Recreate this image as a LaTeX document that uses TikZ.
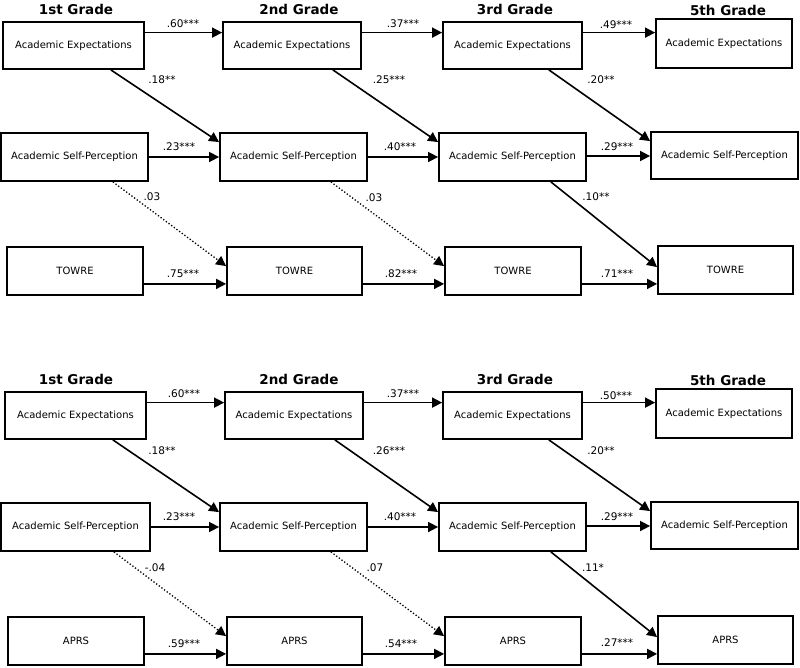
\documentclass[tikz,border=0pt]{standalone}
\usepackage{fontspec}
\setmainfont{DejaVu Sans}
\usetikzlibrary{arrows.meta}
\begin{document}
\begin{tikzpicture}[x=1pt,y=-1pt,
 box/.style={draw,line width=1.8pt,inner sep=0pt,minimum height=48pt,font=\fontsize{10}{12}\selectfont},
 arr/.style={line width=1.6pt,-{Triangle[length=10pt,width=10pt]}},
 dotarr/.style={line width=1.3pt,dotted,-{Triangle[length=10pt,width=10pt]}},
 lab/.style={font=\fontsize{10.5}{12}\selectfont,inner sep=1pt},
 gtitle/.style={font=\bfseries\fontsize{13.5}{15}\selectfont,inner sep=0pt}]
\useasboundingbox (0,0) rectangle (800,667);

% ================= TOP PANEL =================
\node[gtitle] (tg1) at (76,9) {1st Grade};
\node[gtitle] (tg2) at (299,9) {2nd Grade};
\node[gtitle] (tg3) at (515,9) {3rd Grade};
\node[gtitle] (tg5) at (728,10) {5th Grade};

\node[box,minimum width=141pt,minimum height=47pt] (ae1) at (73.5,45.5) {Academic Expectations};
\node[box,minimum width=138pt,minimum height=47pt] (ae2) at (292,45.5) {Academic Expectations};
\node[box,minimum width=139pt,minimum height=47pt] (ae3) at (512.5,45.5) {Academic Expectations};
\node[box,minimum width=136pt,minimum height=49pt] (ae4) at (724,43.5) {Academic Expectations};

\node[box,minimum width=147pt] (sp1) at (74.5,157) {Academic Self-Perception};
\node[box,minimum width=147pt] (sp2) at (293.5,157) {Academic Self-Perception};
\node[box,minimum width=147pt] (sp3) at (512.5,157) {Academic Self-Perception};
\node[box,minimum width=147pt,minimum height=47pt] (sp4) at (724.5,155.5) {Academic Self-Perception};

\node[box,minimum width=136pt] (tw1) at (75,271) {TOWRE};
\node[box,minimum width=135pt] (tw2) at (294.5,271) {TOWRE};
\node[box,minimum width=136pt] (tw3) at (513,271) {TOWRE};
\node[box,minimum width=135pt] (tw4) at (725.5,270) {TOWRE};

\draw[arr] ([yshift=-11.5pt]ae1.north east) coordinate (c1) -- (c1 -| ae2.west);
\draw[arr] ([yshift=-11.5pt]ae2.north east) coordinate (c2) -- (c2 -| ae3.west);
\draw[arr] ([yshift=-11.5pt]ae3.north east) coordinate (c3) -- (c3 -| ae4.west);

\draw[arr] ([xshift=-34pt]ae1.south east) -- ([yshift=-10pt]sp2.north west);
\draw[arr] ([xshift=-29pt]ae2.south east) -- ([yshift=-10pt]sp3.north west);
\draw[arr] ([xshift=-34pt]ae3.south east) -- ([yshift=-10pt]sp4.north west);

\draw[arr] (sp1.east) -- (sp2.west);
\draw[arr] (sp2.east) -- (sp3.west);
\draw[arr] ([yshift=1pt]sp3.east) coordinate (c4) -- (c4 -| sp4.west);

\draw[dotarr] ([xshift=-36pt]sp1.south east) -- ([yshift=-20pt]tw2.north west);
\draw[dotarr] ([xshift=-37pt]sp2.south east) -- ([yshift=-20pt]tw3.north west);
\draw[arr] ([xshift=-36pt]sp3.south east) -- ([yshift=-22pt]tw4.north west);

\draw[arr] ([yshift=12pt]tw1.south east) coordinate (c5) -- (c5 -| tw2.west);
\draw[arr] ([yshift=12pt]tw2.south east) coordinate (c6) -- (c6 -| tw3.west);
\draw[arr] ([yshift=12pt]tw3.south east) coordinate (c7) -- (c7 -| tw4.west);

\node[lab] (l1) at (183,24) {.60***};
\node[lab] (l2) at (403,24) {.37***};
\node[lab] (l3) at (616,25) {.49***};
\node[lab] (l4) at (162,80) {.18**};
\node[lab] (l5) at (389,80) {.25***};
\node[lab] (l6) at (601,80) {.20**};
\node[lab] (l7) at (179,147) {.23***};
\node[lab] (l8) at (400,147) {.40***};
\node[lab] (l9) at (617,147) {.29***};
\node[lab] (l10) at (152,197) {.03};
\node[lab] (l11) at (374,198) {.03};
\node[lab] (l12) at (596,197) {.10**};
\node[lab] (l13) at (183,274) {.75***};
\node[lab] (l14) at (401,274) {.82***};
\node[lab] (l15) at (617,274) {.71***};

% ================= BOTTOM PANEL =================
\begin{scope}[shift={(0,370)}]
\node[gtitle] (bg1) at (76,9) {1st Grade};
\node[gtitle] (bg2) at (299,9) {2nd Grade};
\node[gtitle] (bg3) at (515,9) {3rd Grade};
\node[gtitle] (bg5) at (728,10) {5th Grade};

\node[box,minimum width=141pt,minimum height=47pt] (bae1) at (75.5,45.5) {Academic Expectations};
\node[box,minimum width=138pt,minimum height=47pt] (bae2) at (294,45.5) {Academic Expectations};
\node[box,minimum width=139pt,minimum height=47pt] (bae3) at (512.5,45.5) {Academic Expectations};
\node[box,minimum width=136pt,minimum height=49pt] (bae4) at (724,43.5) {Academic Expectations};

\node[box,minimum width=149pt] (bsp1) at (75.5,157) {Academic Self-Perception};
\node[box,minimum width=147pt] (bsp2) at (293.5,157) {Academic Self-Perception};
\node[box,minimum width=147pt] (bsp3) at (512.5,157) {Academic Self-Perception};
\node[box,minimum width=147pt,minimum height=47pt] (bsp4) at (724.5,155.5) {Academic Self-Perception};

\node[box,minimum width=136pt] (ap1) at (76,271) {APRS};
\node[box,minimum width=135pt] (ap2) at (294.5,271) {APRS};
\node[box,minimum width=136pt] (ap3) at (513,271) {APRS};
\node[box,minimum width=135pt] (ap4) at (725.5,270) {APRS};

\draw[arr] ([yshift=-11.5pt]bae1.north east) coordinate (d1) -- (d1 -| bae2.west);
\draw[arr] ([yshift=-11.5pt]bae2.north east) coordinate (d2) -- (d2 -| bae3.west);
\draw[arr] ([yshift=-11.5pt]bae3.north east) coordinate (d3) -- (d3 -| bae4.west);

\draw[arr] ([xshift=-34pt]bae1.south east) -- ([yshift=-10pt]bsp2.north west);
\draw[arr] ([xshift=-29pt]bae2.south east) -- ([yshift=-10pt]bsp3.north west);
\draw[arr] ([xshift=-34pt]bae3.south east) -- ([yshift=-10pt]bsp4.north west);

\draw[arr] (bsp1.east) -- (bsp2.west);
\draw[arr] (bsp2.east) -- (bsp3.west);
\draw[arr] ([yshift=1pt]bsp3.east) coordinate (d4) -- (d4 -| bsp4.west);

\draw[dotarr] ([xshift=-37pt]bsp1.south east) -- ([yshift=-20pt]ap2.north west);
\draw[dotarr] ([xshift=-37pt]bsp2.south east) -- ([yshift=-20pt]ap3.north west);
\draw[arr] ([xshift=-36pt]bsp3.south east) -- ([yshift=-22pt]ap4.north west);

\draw[arr] ([yshift=12pt]ap1.south east) coordinate (d5) -- (d5 -| ap2.west);
\draw[arr] ([yshift=12pt]ap2.south east) coordinate (d6) -- (d6 -| ap3.west);
\draw[arr] ([yshift=12pt]ap3.south east) coordinate (d7) -- (d7 -| ap4.west);

\node[lab] (m1) at (184,24) {.60***};
\node[lab] (m2) at (403,24) {.37***};
\node[lab] (m3) at (616,26) {.50***};
\node[lab] (m4) at (162,81) {.18**};
\node[lab] (m5) at (389,81) {.26***};
\node[lab] (m6) at (601,81) {.20**};
\node[lab] (m7) at (179,147) {.23***};
\node[lab] (m8) at (400,147) {.40***};
\node[lab] (m9) at (617,147) {.29***};
\node[lab] (m10) at (155,198) {-.04};
\node[lab] (m11) at (375,198) {.07};
\node[lab] (m12) at (593,198) {.11*};
\node[lab] (m13) at (184,274) {.59***};
\node[lab] (m14) at (401,274) {.54***};
\node[lab] (m15) at (617,273) {.27***};
\end{scope}
\end{tikzpicture}
\end{document}
